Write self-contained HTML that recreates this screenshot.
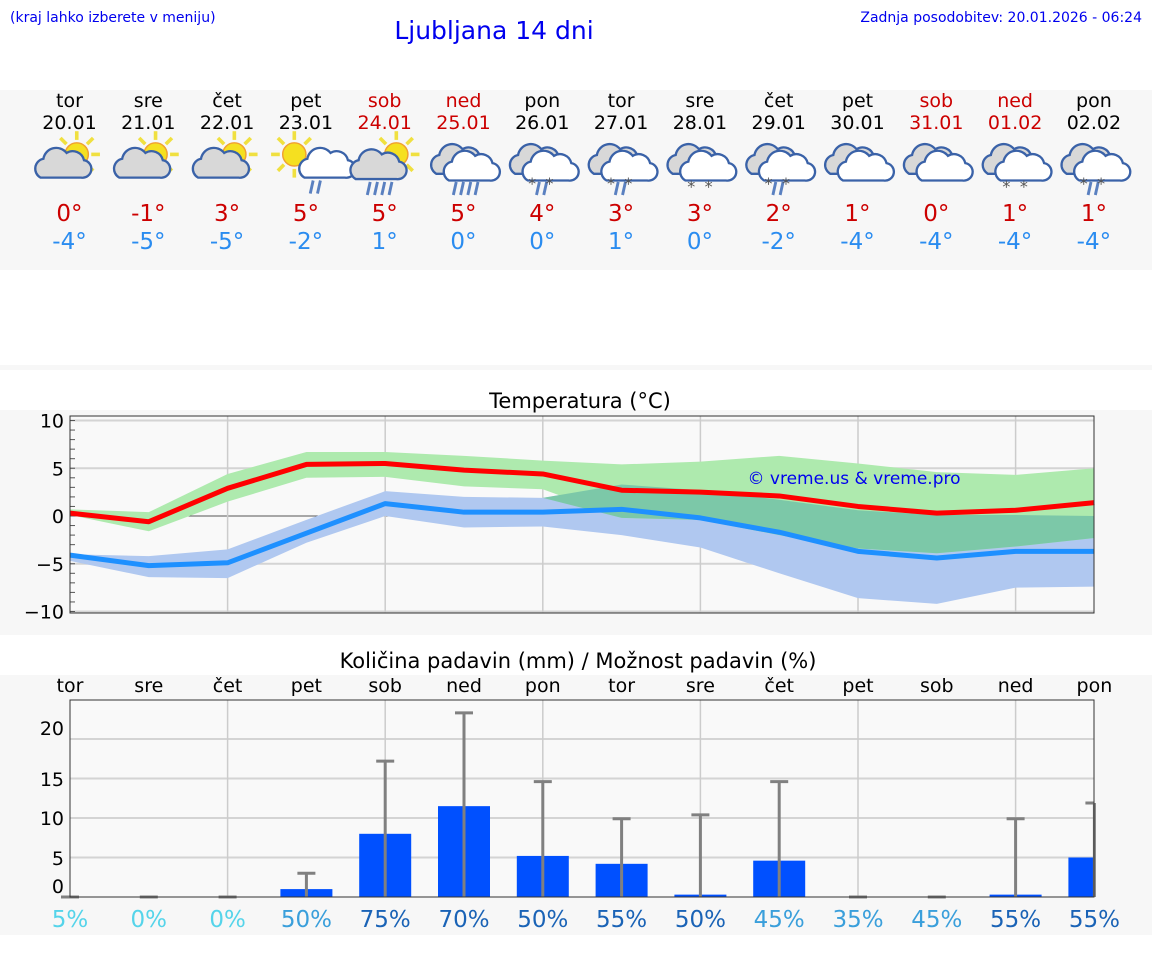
<!DOCTYPE html>
<html><head><meta charset="utf-8">
<style>
body{margin:0;width:1152px;height:975px;background:#fff;font-family:"DejaVu Sans","Liberation Sans",sans-serif;overflow:hidden;position:relative}
svg{position:absolute;left:0;top:0}
</style></head>
<body>
<svg id="main" width="1152" height="975" xmlns="http://www.w3.org/2000/svg">
<rect x="0" y="90" width="1152" height="180" fill="#f7f7f7"/>
<rect x="0" y="365" width="1152" height="5" fill="#f7f7f7"/>
<rect x="0" y="410" width="1152" height="225" fill="#f7f7f7"/>
<rect x="0" y="675" width="1152" height="260" fill="#f7f7f7"/>
<text x="10" y="22" font-size="14" fill="#0000ee">(kraj lahko izberete v meniju)</text>
<text x="494" y="39" font-size="25" fill="#0000ee" text-anchor="middle">Ljubljana 14 dni</text>
<text x="1142" y="22" font-size="14" fill="#0000ee" text-anchor="end">Zadnja posodobitev: 20.01.2026 - 06:24</text>
<text x="580" y="408" font-size="21" text-anchor="middle" fill="#000">Temperatura (°C)</text>
<text x="578" y="668" font-size="21" text-anchor="middle" fill="#000">Količina padavin (mm) / Možnost padavin (%)</text>
<g id="days"></g>
<g id="temp"></g>
<g id="precip"></g>
</svg>
<script>
const dayNames=["tor","sre","čet","pet","sob","ned","pon","tor","sre","čet","pet","sob","ned","pon"];
const dates=["20.01","21.01","22.01","23.01","24.01","25.01","26.01","27.01","28.01","29.01","30.01","31.01","01.02","02.02"];
const weekend=[0,0,0,0,1,1,0,0,0,0,0,1,1,0];
const dayMax=[0,-1,3,5,5,5,4,3,3,2,1,0,1,1];
const dayMin=[-4,-5,-5,-2,1,0,0,1,0,-2,-4,-4,-4,-4];
const icons=["sc","sc","sc","sr","scr","cr","crs","crs","cs","crs","c","c","cs","crs"];

const maxLine=[0.3,-0.6,2.9,5.4,5.5,4.8,4.4,2.7,2.5,2.1,1.0,0.3,0.6,1.4];
const maxHi=[0.7,0.4,4.4,6.7,6.7,6.3,5.8,5.4,5.7,6.3,5.5,4.6,4.3,5.0];
const maxLo=[0.1,-1.6,1.5,4.0,4.1,3.1,2.8,-0.2,-0.4,-2.0,-3.4,-3.9,-3.2,-2.3];
const minLine=[-4.1,-5.2,-4.9,-1.8,1.3,0.4,0.4,0.7,-0.2,-1.7,-3.7,-4.4,-3.7,-3.7];
const minHi=[-4.0,-4.2,-3.5,-0.4,2.6,2.0,1.9,3.3,2.7,1.7,0.6,0.1,0.1,0.0];
const minLo=[-4.7,-6.4,-6.5,-2.8,0.0,-1.2,-1.1,-2.0,-3.3,-6.0,-8.6,-9.2,-7.5,-7.4];
const tempTicks=[10,5,0,-5,-10];

const precip=[0,0,0,1.0,8.0,11.5,5.2,4.2,0.3,4.6,0,0,0.3,5.0];
const precipErr=[0,0,0,3.0,17.2,23.3,14.6,9.9,10.4,14.6,0,0,9.9,11.9];
const chance=[5,0,0,50,75,70,50,55,50,45,35,45,55,55];
const precipTicks=[0,5,10,15,20];

const NS="http://www.w3.org/2000/svg";
function mk(p,t,a,txt){const e=document.createElementNS(NS,t);for(const k in a)e.setAttribute(k,a[k]);if(txt!==undefined)e.textContent=txt;p.appendChild(e);return e;}
const X=i=>69.5+78.8*i;

const dg=document.getElementById('days');
function cloud(g,cx,cy,s,fill){
  const p=mk(g,'path',{d:`M${cx-14*s},${cy+8*s} a7 7 0 0 1 2,-13 a9 9 0 0 1 16,-4 a8 8 0 0 1 12,5 a6 6 0 0 1 -2,12 z`,fill:fill,stroke:'#3a62a8','stroke-width':1.6});
  
  
}
function sun(g,cx,cy){
  for(let k=0;k<8;k++){const a=k*Math.PI/4;const l=mk(g,'line',{x1:cx+Math.cos(a)*10,y1:cy+Math.sin(a)*10,x2:cx+Math.cos(a)*16,y2:cy+Math.sin(a)*16,stroke:'#f0e040','stroke-width':2.5});
    }
  const c=mk(g,'circle',{cx:cx,cy:cy,r:8,fill:'#f5e020',stroke:'#f0a030','stroke-width':1});
  
}
function rain(g,cx,cy,n){for(let k=0;k<n;k++){const l=mk(g,'line',{x1:cx-6+k*5+1,y1:cy,x2:cx-6+k*5-1,y2:cy+9,stroke:'#5a80c0','stroke-width':2});}}
function snow(g,cx,cy){[-6,6].forEach(d=>{const t=mk(g,'text',{x:cx+d,y:cy+9,'font-size':11,'text-anchor':'middle',fill:'#555'},'*');});}
for(let i=0;i<14;i++){
  const x=X(i),col=weekend[i]?'#cc0000':'#000';
  const g=mk(dg,'g',{});
  
  
  let t=mk(g,'text',{x:x,y:107,'font-size':19,'text-anchor':'middle',fill:col},dayNames[i]);
  
  t=mk(g,'text',{x:x,y:129,'font-size':19,'text-anchor':'middle',fill:col},dates[i]);
  
  const ic=mk(g,'g',{transform:`translate(${x},166) scale(1.45) translate(${-x},-166)`});
  
  const k=icons[i];
  if(k==='sc'){sun(ic,x+5,158);cloud(ic,x-6,166,1,'#d8d8d8');}
  else if(k==='sr'){sun(ic,x-8,158);cloud(ic,x+13,166,1,'#fff');rain(ic,x+10,176,2);}
  else if(k==='scr'){sun(ic,x+8,158);cloud(ic,x-6,167,1,'#d8d8d8');rain(ic,x-5,177,4);}
  else{cloud(ic,x-4,163,1.05,'#d8d8d8');cloud(ic,x+4,168,1,'#fff');
    if(k==='cr')rain(ic,x,177,4);
    if(k==='crs'){rain(ic,x+3,177,2);snow(ic,x-1,173);}
    if(k==='cs')snow(ic,x,175);}
  t=mk(g,'text',{x:x,y:221,'font-size':23,'text-anchor':'middle',fill:'#cc0000'},dayMax[i]+'°');
  
  t=mk(g,'text',{x:x,y:249,'font-size':23,'text-anchor':'middle',fill:'#2a8cf0'},dayMin[i]+'°');
  
}

const tg=document.getElementById('temp');
const L=70,R=1094,TY=t=>516-t*9.55;
const tx=i=>L+78.8*i;
let r=mk(tg,'rect',{x:L,y:416,width:R-L,height:197,fill:'#f9f9f9',stroke:'none'});

tempTicks.forEach(v=>{const l=mk(tg,'line',{x1:L,x2:R,y1:TY(v),y2:TY(v),stroke:v===0?'#555':'#d4d4d4','stroke-width':v===0?1:2});
  const t=mk(tg,'text',{x:64,y:TY(v)+7,'font-size':19,'text-anchor':'end',fill:'#000'},v<0?'−'+(-v):v);});
for(let v=-10;v<=10;v++){const l=mk(tg,'line',{x1:L,x2:L+5,y1:TY(v),y2:TY(v),stroke:'#555','stroke-width':1});}
for(let i=2;i<14;i+=2){const l=mk(tg,'line',{x1:tx(i),x2:tx(i),y1:416,y2:613,stroke:'#ccc','stroke-width':1.5});}
function band(hi,lo,fill,name){let d='M'+hi.map((v,i)=>tx(i)+','+TY(v)).join('L');for(let i=13;i>=0;i--)d+='L'+tx(i)+','+TY(lo[i]);const p=mk(tg,'path',{d:d+'Z',fill:fill});}
band(minHi,minLo,'#b0c8f0','min-temp-range');
band(maxHi,maxLo,'#aeeaae','max-temp-range');
// overlap region
(function(){const hi=[],lo=[];for(let i=0;i<14;i++){const h=Math.min(maxHi[i],minHi[i]),l=Math.max(maxLo[i],minLo[i]);hi.push(h);lo.push(Math.min(l,h));}
 band(hi,lo,'#7cc8a8','temp-range-overlap');})();
let tt=mk(tg,'text',{x:854,y:484,'font-size':17,'text-anchor':'middle',fill:'#0000ee'},'© vreme.us & vreme.pro');

function line(arr,col,name){const p=mk(tg,'polyline',{points:arr.map((v,i)=>tx(i)+','+TY(v)).join(' '),fill:'none',stroke:col,'stroke-width':5,'stroke-linejoin':'round'});}
line(minLine,'#1e90ff','min-temp-line');
line(maxLine,'#ff0000','max-temp-line');
r=mk(tg,'rect',{x:L,y:416,width:R-L,height:197,fill:'none',stroke:'#333','stroke-width':1});


const pg=document.getElementById('precip');
const PY=v=>897-v*7.9;
const pLabelY=[886,858,818,779,728];
r=mk(pg,'rect',{x:L,y:700,width:R-L,height:197,fill:'#f9f9f9'});

precipTicks.forEach((v,k)=>{if(v>0){const l=mk(pg,'line',{x1:L,x2:R,y1:PY(v),y2:PY(v),stroke:'#d4d4d4','stroke-width':2});}
  const t=mk(pg,'text',{x:64,y:pLabelY[k]+7,'font-size':19,'text-anchor':'end',fill:'#000'},v);});
for(let i=2;i<14;i+=2){const l=mk(pg,'line',{x1:tx(i),x2:tx(i),y1:700,y2:897,stroke:'#ccc','stroke-width':1.5});}
const pctColors=['#55d4ea','#55d4ea','#55d4ea','#3a9fdb','#1a63b6','#1a63b6','#1a63b6','#1a63b6','#1a63b6','#3a9fdb','#3a9fdb','#3a9fdb','#1a63b6','#1a63b6'];
for(let i=0;i<14;i++){
  const x=tx(i);
  let t=mk(pg,'text',{x:x,y:692,'font-size':19,'text-anchor':'middle',fill:'#000'},dayNames[i]);
  
  if(precip[i]>0){const b=mk(pg,'rect',{x:x-26,y:PY(precip[i]),width:Math.min(52,R-(x-26)),height:897-PY(precip[i]),fill:'#0050ff'});}
  const e=mk(pg,'line',{x1:x,x2:x,y1:PY(precipErr[i]),y2:897,stroke:'#808080','stroke-width':3});
  
  const c=mk(pg,'line',{x1:x-9,x2:Math.min(x+9,R),y1:PY(precipErr[i]),y2:PY(precipErr[i]),stroke:'#808080','stroke-width':3});
  
  t=mk(pg,'text',{x:x,y:927,'font-size':23,'text-anchor':'middle',fill:pctColors[i]},chance[i]+'%');
  
}
r=mk(pg,'rect',{x:L,y:700,width:R-L,height:197,fill:'none',stroke:'#333','stroke-width':1});

</script>
</body></html>
